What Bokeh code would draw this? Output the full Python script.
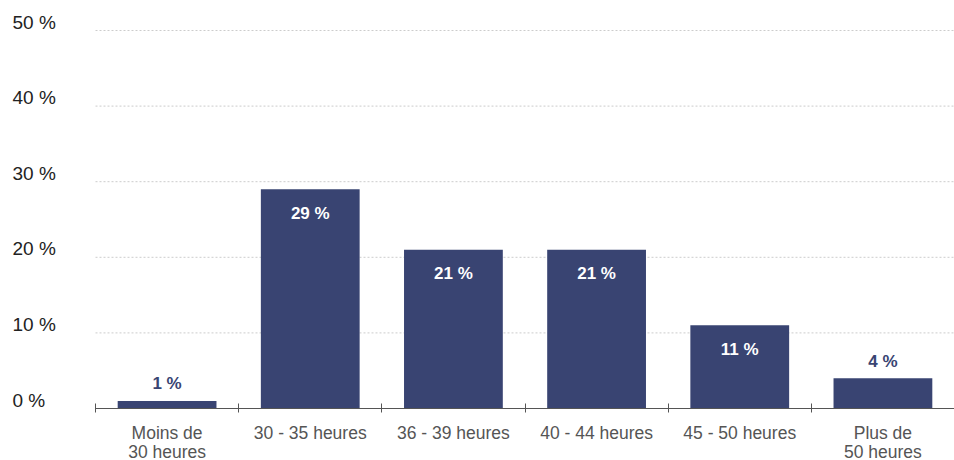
from bokeh.plotting import figure
from bokeh.models import (Range1d, FixedTicker, ColumnDataSource, LinearAxis)
from bokeh.embed import file_html
from bokeh.resources import INLINE
from bokeh.core.properties import value

categories = ["Moins de\n30 heures", "30 - 35 heures", "36 - 39 heures",
              "40 - 44 heures", "45 - 50 heures", "Plus de\n50 heures"]
values = [1, 29, 21, 21, 11, 4]
y_ticks = [0, 10, 20, 30, 40, 50]
y_tick_labels = ["0 %", "10 %", "20 %", "30 %", "40 %", "50 %"]

BAR = "#394472"
FONT = "Liberation Sans"

# layout (pixels)
FRAME_W, FRAME_H = 954, 408
PLOT_LEFT = 95          # where the category area begins
TOP_PAD = 30            # space above the top gridline
n = len(categories)
ymax = max(y_ticks)
x_unit = (FRAME_W - PLOT_LEFT) / n
x_start = -PLOT_LEFT / x_unit
y_end = ymax * FRAME_H / (FRAME_H - TOP_PAD)

xs = [i + 0.5 for i in range(n)]
inside = [v >= 8 for v in values]
src = ColumnDataSource(dict(
    x=xs, top=values,
    label=[f"{v} %" for v in values],
    color=["#ffffff" if ins else BAR for ins in inside],
    yoff=[24 if ins else -17 for ins in inside],
))

p = figure(frame_width=FRAME_W, frame_height=FRAME_H, output_backend="svg",
           toolbar_location=None,
           x_range=Range1d(x_start, n), y_range=Range1d(0, y_end),
           min_border_left=0, min_border_right=0, min_border_top=0,
           min_border_bottom=40, x_axis_type=None, y_axis_type=None)
p.outline_line_color = None
p.background_fill_color = "white"
p.border_fill_color = "white"
p.xgrid.visible = False
p.ygrid.visible = False

# x axis
xaxis = LinearAxis(bounds=(0, n))
xaxis.ticker = FixedTicker(ticks=xs, minor_ticks=list(range(n + 1)))
xaxis.major_label_overrides = {x: c for x, c in zip(xs, categories)}
xaxis.major_tick_in = 0
xaxis.major_tick_out = 0
xaxis.minor_tick_in = 5
xaxis.minor_tick_out = 4
xaxis.minor_tick_line_color = "#555555"
xaxis.axis_line_color = "#555555"
xaxis.axis_line_width = 1.2
xaxis.major_label_text_font = FONT
xaxis.major_label_text_font_size = "17.5px"
xaxis.major_label_text_color = "#555555"
xaxis.major_label_text_line_height = 0.95
xaxis.major_label_standoff = 10
p.add_layout(xaxis, "below")

# dashed gridlines over the category area
grid_y = y_ticks[1:]
p.segment(x0=[0] * len(grid_y), x1=[n] * len(grid_y), y0=grid_y, y1=grid_y,
          line_color="#cccccc", line_dash="2 2", line_width=1)

# y tick labels, left aligned, sitting on their gridlines
p.text(x=[x_start] * len(y_ticks), y=y_ticks, text=y_tick_labels,
       x_offset=12, y_offset=2, text_align="left", text_baseline="bottom",
       text_font=value(FONT), text_font_size="19px", text_color="#222222")

p.vbar(x="x", top="top", width=0.69, bottom=0, source=src,
       fill_color=BAR, line_color=None)

p.text(x="x", y="top", text="label", source=src, text_color="color",
       text_align="center", text_baseline="middle", y_offset="yoff",
       text_font=value(FONT), text_font_size="17px", text_font_style="bold")

open("out.html", "w").write(file_html(p, INLINE))
